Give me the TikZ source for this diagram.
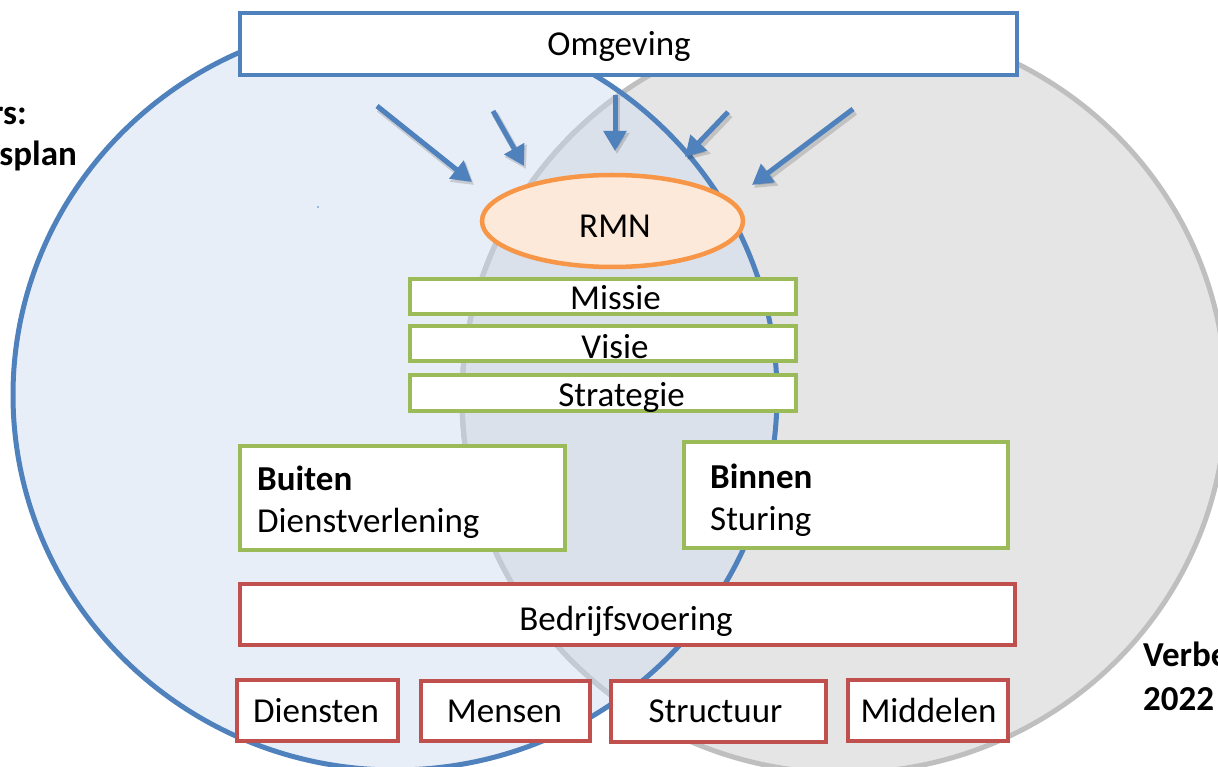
\documentclass[tikz,border=0pt]{standalone}
\usepackage{fontspec}
\setmainfont{Carlito}
\usetikzlibrary{arrows.meta,shapes.geometric}
\definecolor{cblue}{HTML}{4F81BD}
\definecolor{cbluefill}{HTML}{E8EEF8}
\definecolor{clensfill}{HTML}{DAE1EB}
\definecolor{clensline}{HTML}{C4CAD3}
\definecolor{cgreen}{HTML}{9BBB59}
\definecolor{cred}{HTML}{C0504D}
\definecolor{corange}{HTML}{F79646}
\definecolor{corangefill}{HTML}{FDE9D9}
\definecolor{cgray}{HTML}{BFBFBF}
\definecolor{cgrayfill}{HTML}{E5E5E5}
\begin{document}
\begin{tikzpicture}[x=1pt,y=-1pt,
  box/.style={draw, fill=white, line width=4.5pt, rectangle, inner sep=0pt, anchor=center},
  bluebox/.style={box, draw=cblue},
  greenbox/.style={box, draw=cgreen, line width=3.5pt},
  redbox/.style={box, draw=cred},
  lbl/.style={font=\fontsize{35}{42}\selectfont, anchor=base, inner sep=0pt},
  inarrow/.style={draw=cblue, line width=5pt, -{Triangle[length=20pt,width=22pt]}},
  arrowshadow/.style={draw=black, opacity=0.15, line width=6.5pt, -{Triangle[length=21pt,width=24pt]}},
]
\useasboundingbox (0,0) rectangle (1218,767);
% circles
\fill[cgrayfill] (844,398) ellipse [x radius=382pt, y radius=375pt];
\fill[cbluefill] (395,395) ellipse [x radius=382pt, y radius=375pt];
\begin{scope}
  \clip (395,395) ellipse [x radius=382pt, y radius=375pt];
  \fill[clensfill] (844,398) ellipse [x radius=382pt, y radius=375pt];
\end{scope}
\draw[cgray, line width=5pt] (844,398) ellipse [x radius=382pt, y radius=375pt];
\begin{scope}
  \clip (395,395) ellipse [x radius=382pt, y radius=375pt];
  \draw[clensline, line width=5pt] (844,398) ellipse [x radius=382pt, y radius=375pt];
\end{scope}
\draw[cblue, line width=5pt] (395,395) ellipse [x radius=382pt, y radius=375pt];
\fill[cblue] (318,207) circle (0.8pt);

% arrow end points
\coordinate (a1s) at (377,106); \coordinate (a1e) at (472,182);
\coordinate (a2s) at (493,111); \coordinate (a2e) at (524,166);
\coordinate (a3s) at (615,95);  \coordinate (a3e) at (615,151);
\coordinate (a4s) at (728,112); \coordinate (a4e) at (685,157);
\coordinate (a5s) at (853,109); \coordinate (a5e) at (752,185);
\foreach \s/\e in {a1s/a1e,a2s/a2e,a3s/a3e,a4s/a4e,a5s/a5e}{
  \draw[arrowshadow, transform canvas={shift={(2pt,-3pt)}}] (\s) -- (\e);
}
\foreach \s/\e in {a1s/a1e,a2s/a2e,a3s/a3e,a4s/a4e,a5s/a5e}{
  \draw[inarrow] (\s) -- (\e);
}

% top box
\node[bluebox, minimum width=777pt, minimum height=62pt] (omg) at (628.5,44) {};
\node[lbl] (tomg) at (619,56) {Omgeving};

% RMN
\node[ellipse, draw=corange, fill=corangefill, line width=4.5pt, minimum width=261pt, minimum height=92pt, inner sep=0pt] (rmn) at (612.5,221) {};
\node[lbl] (trmn) at (615,238) {RMN};

% mission boxes
\node[greenbox, minimum width=386pt, minimum height=35pt] (mis) at (603,296.5) {};
\node[greenbox, minimum width=386pt, minimum height=35pt] (vis) at (603,343.5) {};
\node[greenbox, minimum width=386pt, minimum height=36pt] (str) at (603,393) {};
\node[lbl] (tmis) at (615.5,309) {Missie};
\node[lbl] (tvis) at (615,358) {Visie};
\node[lbl] (tstr) at (621.5,406) {Strategie};

% buiten / binnen
\node[greenbox, line width=4pt, minimum width=325pt, minimum height=104pt] (bui) at (402.5,498) {};
\node[greenbox, line width=4pt, minimum width=324pt, minimum height=106pt] (bin) at (846,495) {};
\node[lbl, anchor=base west] (tbui1) at (257,490) {\bfseries Buiten};
\node[lbl, anchor=base west] (tbui2) at (257,532) {Dienstverlening};
\node[lbl, anchor=base west] (tbin1) at (710,488) {\bfseries Binnen};
\node[lbl, anchor=base west] (tbin2) at (710,530) {Sturing};

% bedrijfsvoering
\node[redbox, minimum width=775pt, minimum height=61pt] (bed) at (627.5,614.5) {};
\node[lbl] (tbed) at (626,630) {Bedrijfsvoering};

% bottom boxes
\node[redbox, minimum width=161pt, minimum height=61pt] (die) at (317.5,710.5) {};
\node[redbox, minimum width=169pt, minimum height=60pt] (men) at (505.5,711) {};
\node[redbox, minimum width=215pt, minimum height=61pt] (stu) at (718.5,711.5) {};
\node[redbox, minimum width=160pt, minimum height=61pt] (mid) at (928,710.5) {};
\node[lbl] (tdie) at (316,722) {Diensten};
\node[lbl] (tmen) at (504.5,722) {Mensen};
\node[lbl] (tstu) at (715.5,722) {Structuur};
\node[lbl] (tmid) at (928.5,722) {Middelen};

% cut-off side texts
\node[lbl, anchor=base east] (trs) at (27,125) {\bfseries rs:};
\node[lbl, anchor=base east] (tspl) at (77,166) {\bfseries splan};
\node[lbl, anchor=base west] (tver) at (1143,666) {\bfseries Verbe};
\node[lbl, anchor=base west] (t22) at (1143,710) {\bfseries 2022};
\end{tikzpicture}
\end{document}
